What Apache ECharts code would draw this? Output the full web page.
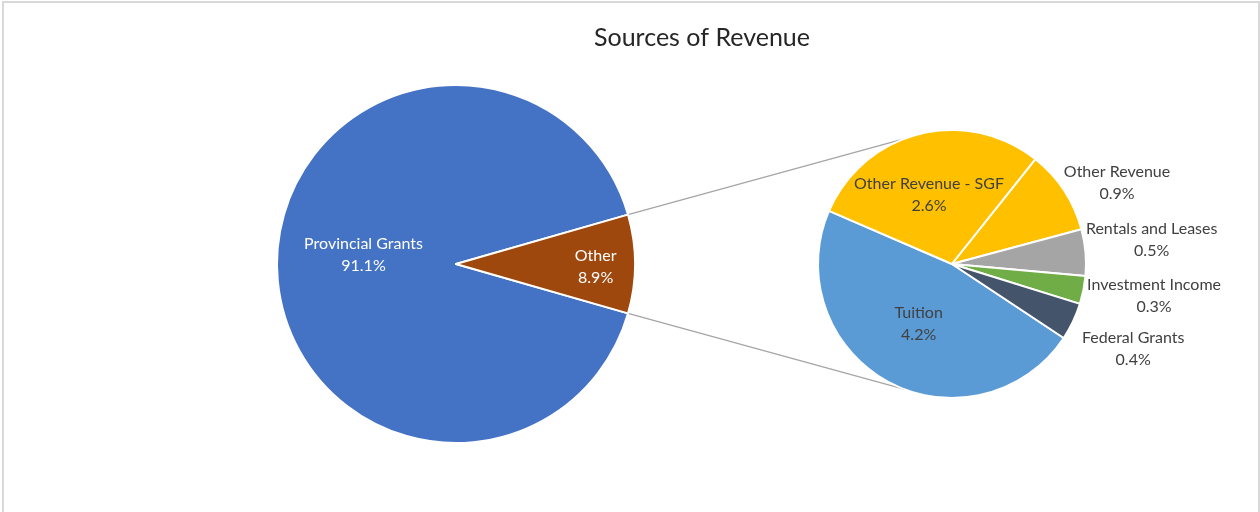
<!DOCTYPE html>
<html>
<head>
<meta charset="utf-8">
<title>Sources of Revenue</title>
<script src="https://cdn.jsdelivr.net/npm/echarts@6/dist/echarts.min.js"></script>
<style>
  html, body { margin: 0; padding: 0; background: #ffffff; }
  #chart { width: 1260px; height: 512px; }
</style>
</head>
<body>
<div id="chart"></div>
<script>
// Revenue split: main pie, and the breakdown of "Other"
const mainCategories = ['Provincial Grants', 'Other'];
const mainValues = [91.1, 8.9];

const otherCategories = ['Tuition', 'Other Revenue - SGF', 'Other Revenue', 'Rentals and Leases', 'Investment Income', 'Federal Grants'];
const otherValues = [4.2, 2.6, 0.9, 0.5, 0.3, 0.4];

// Layout of the two pies (pixels)
const MAIN = { cx: 456, cy: 264, r: 179 };
const SUB = { cx: 952, cy: 264, r: 134, start: -33.5 };
const LINK_ANGLE = 111; // where connectors meet the breakdown pie

// Small hand adjustments for the outside labels of the breakdown pie [dx, dy]
const outsideNudge = { 2: [4, 24], 3: [-3, -7], 4: [0, -8], 5: [8, 3] };

const mainColors = ['#4472C4', '#9E480E'];
const otherColors = ['#5B9BD5', '#FFC000', '#FFC000', '#A5A5A5', '#70AD47', '#44546A'];

const FONT = 'Lato, "Open Sans", sans-serif';
const sum = a => a.reduce((s, v) => s + v, 0);
const rad = d => d * Math.PI / 180;

// Main pie: "Other" slice centred on the right-hand side
const mainTotal = sum(mainValues);
const otherHalf = mainValues[1] / mainTotal * 180;
const mainStart = -otherHalf; // Provincial Grants runs clockwise from here

function subMidAngle(i) {
  const total = sum(otherValues);
  const before = sum(otherValues.slice(0, i));
  return SUB.start - (before + otherValues[i] / 2) / total * 360;
}

const fmt = p => p.name + '\n' + Number(p.value).toFixed(1) + '%';

// Connector lines from the "Other" slice edges to the breakdown pie
const p1 = [MAIN.cx + MAIN.r * Math.cos(rad(otherHalf)), MAIN.cy - MAIN.r * Math.sin(rad(otherHalf))];
const p2 = [MAIN.cx + MAIN.r * Math.cos(rad(-otherHalf)), MAIN.cy - MAIN.r * Math.sin(rad(-otherHalf))];
const q1 = [SUB.cx + SUB.r * Math.cos(rad(LINK_ANGLE)), SUB.cy - SUB.r * Math.sin(rad(LINK_ANGLE))];
const q2 = [SUB.cx + SUB.r * Math.cos(rad(-LINK_ANGLE)), SUB.cy - SUB.r * Math.sin(rad(-LINK_ANGLE))];

const chart = echarts.init(document.getElementById('chart'), null, { renderer: 'canvas' });

chart.setOption({
  animation: false,
  backgroundColor: '#ffffff',
  title: {
    text: 'Sources of Revenue',
    left: 697,
    top: 20,
    textAlign: 'center',
    textStyle: { fontFamily: FONT, fontSize: 25, fontWeight: 'normal', color: '#262626' }
  },
  graphic: [
    { type: 'rect', z: -1, shape: { x: 3, y: 2, width: 1256, height: 600 },
      style: { fill: 'none', stroke: '#d9d9d9', lineWidth: 2 } },
    { type: 'line', shape: { x1: p1[0], y1: p1[1], x2: q1[0], y2: q1[1] },
      style: { stroke: '#a6a6a6', lineWidth: 1.5 } },
    { type: 'line', shape: { x1: p2[0], y1: p2[1], x2: q2[0], y2: q2[1] },
      style: { stroke: '#a6a6a6', lineWidth: 1.5 } }
  ],
  series: [
    {
      type: 'pie',
      center: [MAIN.cx, MAIN.cy],
      radius: [0, MAIN.r],
      startAngle: mainStart,
      clockwise: true,
      color: mainColors,
      itemStyle: { borderColor: '#ffffff', borderWidth: 2 },
      label: {
        show: true, position: 'inside', formatter: fmt,
        fontFamily: FONT, fontSize: 16, lineHeight: 22, color: '#ffffff'
      },
      labelLine: { show: false },
      emphasis: { disabled: true },
      labelLayout: function (params) {
        if (params.dataIndex === 1) {
          return { x: MAIN.cx + MAIN.r * 0.78, y: MAIN.cy + 3, align: 'center', verticalAlign: 'middle' };
        }
        return { dy: -9 };
      },
      data: mainCategories.map((n, i) => ({ name: n, value: mainValues[i] }))
    },
    {
      type: 'pie',
      center: [SUB.cx, SUB.cy],
      radius: [0, SUB.r],
      startAngle: SUB.start,
      clockwise: true,
      color: otherColors,
      itemStyle: { borderColor: '#ffffff', borderWidth: 2 },
      label: {
        show: true, position: 'inside', formatter: fmt,
        fontFamily: FONT, fontSize: 16, lineHeight: 22, color: '#404040'
      },
      labelLine: { show: false },
      emphasis: { disabled: true },
      labelLayout: function (params) {
        const i = params.dataIndex;
        if (i === 0) return { dy: -2 };
        if (i === 1) return { dx: -6, dy: -1 };
        const a = rad(subMidAngle(i));
        const hw = params.labelRect.width / 2;
        const hh = params.labelRect.height / 2;
        const d = SUB.r + hw * Math.abs(Math.cos(a)) + hh * Math.abs(Math.sin(a)) + 2;
        const n = outsideNudge[i] || [0, 0];
        return {
          x: SUB.cx + d * Math.cos(a) + n[0],
          y: SUB.cy - d * Math.sin(a) + n[1],
          align: 'center',
          verticalAlign: 'middle'
        };
      },
      data: otherCategories.map((n, i) => ({ name: n, value: otherValues[i] }))
    }
  ]
});
</script>
</body>
</html>
